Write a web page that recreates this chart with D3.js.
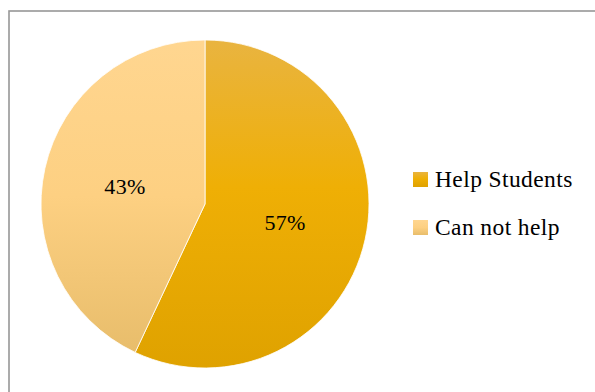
<!DOCTYPE html>
<html>
<head>
<meta charset="utf-8">
<script src="https://cdn.jsdelivr.net/npm/d3@7"></script>
<style>
  body { margin: 0; background: #fff; }
  svg { display: block; }
</style>
</head>
<body>
<div id="chart"></div>
<script>
// data
const categories = ["Help Students", "Can not help"];
const values = [57, 43];
const labels = ["57%", "43%"];

const width = 595, height = 392;
const cx = 205, cy = 204, radius = 164;

const svg = d3.select("#chart")
    .append("svg")
        .attr("width", width)
        .attr("height", height);

// gradients, one per slice
const defs = svg.append("defs");
const gradStops = [
    [["0%", "#E9B440"], ["45%", "#EFAF05"], ["100%", "#DFA200"]],
    [["0%", "#FFD690"], ["50%", "#FDD082"], ["100%", "#E8BD6B"]]
];
gradStops.forEach(function(stops, i) {
    let g = defs.append("linearGradient")
        .attr("id", "grad" + i)
        .attr("x1", 0).attr("y1", 0)
        .attr("x2", 0).attr("y2", 1);
    stops.forEach(function(s) {
        g.append("stop").attr("offset", s[0]).attr("stop-color", s[1]);
    });
});

// chart frame (runs off right and bottom edges)
svg.append("rect")
    .attr("x", 9)
    .attr("y", 11)
    .attr("width", 620)
    .attr("height", 420)
    .attr("fill", "none")
    .attr("stroke", "#979797")
    .attr("stroke-width", 1.6);

let pie = d3.pie()
    .value(function(d) { return d; })
    .sort(null);

let arc = d3.arc().innerRadius(0).outerRadius(radius);

let g = svg.append("g")
    .attr("transform", `translate(${cx}, ${cy})`);

let slices = pie(values);

g.selectAll("path")
    .data(slices)
    .enter()
    .append("path")
    .attr("d", arc)
    .attr("fill", function(d, i) { return `url(#grad${i})`; })
    .attr("stroke", "#fff")
    .attr("stroke-width", 0.8);

// percentage labels at arc centroid
g.selectAll("text")
    .data(slices)
    .enter()
    .append("text")
    .attr("transform", function(d) { return `translate(${arc.centroid(d)})`; })
    .attr("dy", "0.35em")
    .attr("text-anchor", "middle")
    .style("font-family", "'Liberation Serif', serif")
    .style("font-size", "22px")
    .style("letter-spacing", "0.3px")
    .style("fill", "#000")
    .text(function(d, i) { return labels[i]; });

// legend
let legend = svg.append("g")
    .attr("transform", "translate(413, 172)");

let items = legend.selectAll("g")
    .data(categories)
    .enter()
    .append("g")
    .attr("transform", function(d, i) { return `translate(0, ${i * 48})`; });

items.append("rect")
    .attr("width", 15)
    .attr("height", 15)
    .attr("fill", function(d, i) { return `url(#grad${i})`; });

items.append("text")
    .attr("x", 22)
    .attr("y", 14.5)
    .style("font-family", "'Liberation Serif', serif")
    .style("font-size", "23.5px")
    .style("letter-spacing", "0.4px")
    .style("fill", "#000")
    .text(function(d) { return d; });
</script>
</body>
</html>
